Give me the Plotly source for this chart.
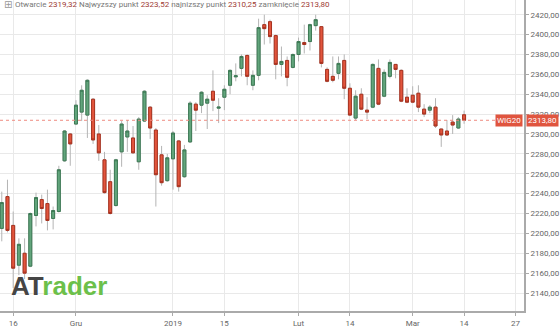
import pandas as pd
import plotly.graph_objects as go

# ---- data (WIG20 daily candles, 14 Nov 2018 - 14 Mar 2019) ----
holidays = ["2018-12-24", "2018-12-25", "2018-12-26", "2018-12-31", "2019-01-01"]
all_days = [d for d in pd.bdate_range("2018-11-14", "2019-03-29") if d.strftime("%Y-%m-%d") not in holidays]
n_candles = 82
dates = all_days[:n_candles]

opens = [2205, 2237, 2208, 2168, 2180, 2167, 2218, 2234, 2230, 2215,
         2222, 2273, 2300, 2310, 2322, 2319, 2335, 2300, 2274, 2252,
         2228, 2282, 2297, 2296, 2272, 2313, 2327, 2304, 2279, 2253,
         2275, 2293, 2257, 2292, 2330, 2329, 2331, 2343, 2326, 2337,
         2349, 2357.5, 2366, 2379, 2349, 2359, 2410, 2413, 2399, 2370,
         2374, 2367, 2380, 2392, 2393, 2409, 2408, 2365, 2358, 2361,
         2374, 2346, 2316, 2340, 2324, 2327, 2366, 2338, 2358, 2370,
         2364, 2337, 2339, 2341, 2325, 2324, 2327, 2305, 2303, 2312,
         2306, 2319.32]
highs = [2242, 2254, 2222, 2195, 2195, 2221, 2241, 2239, 2244, 2227,
         2268, 2304, 2301, 2334, 2349, 2355, 2336, 2309, 2282, 2264,
         2275, 2313, 2314, 2308, 2317, 2344, 2328, 2306, 2288, 2280,
         2303, 2294, 2289, 2333, 2332, 2343, 2339, 2364, 2336, 2349,
         2365, 2371, 2380, 2380, 2364, 2416, 2420, 2415, 2400, 2388,
         2378, 2381, 2397, 2410, 2411, 2420, 2408, 2367, 2378, 2378,
         2380, 2351, 2344, 2346, 2337, 2371, 2375, 2365, 2375, 2370,
         2365, 2346, 2348, 2349, 2330, 2329, 2336, 2305, 2314, 2319,
         2317, 2323.52]
lows = [2192, 2201, 2145, 2158, 2154, 2166, 2207, 2210, 2203, 2204,
        2221, 2272, 2268, 2309, 2313, 2296, 2290, 2273, 2240, 2219,
        2227, 2267, 2282, 2280, 2264, 2312, 2295, 2227, 2248, 2252,
        2244, 2242, 2256, 2291, 2303, 2321, 2305, 2323, 2311, 2324,
        2340, 2353, 2358, 2349, 2344, 2354, 2390, 2391, 2355, 2358,
        2348, 2366, 2373, 2381, 2384, 2404, 2367, 2352, 2352, 2355,
        2335, 2318, 2314, 2324, 2315, 2326, 2329, 2337, 2356, 2356,
        2332, 2331, 2331, 2322, 2317, 2321, 2306, 2287, 2298, 2300,
        2305, 2310.25]
closes = [2231, 2203, 2165, 2189, 2160, 2220, 2236, 2225, 2213, 2223,
          2264, 2303, 2290, 2329, 2344, 2354, 2294, 2281, 2241, 2220,
          2274, 2310, 2303, 2281, 2315, 2343, 2306, 2259, 2251, 2276,
          2301, 2247, 2284, 2331, 2324, 2342, 2335, 2334, 2327, 2345,
          2364, 2358.5, 2378, 2358, 2359, 2407, 2406, 2398, 2370, 2373,
          2357, 2380, 2393, 2390, 2410, 2415, 2371, 2353, 2354, 2371,
          2346, 2319, 2338, 2325, 2322, 2370, 2330, 2362, 2372, 2365,
          2333, 2332, 2332, 2327, 2320, 2327, 2308, 2299, 2299, 2309,
          2315, 2313.80]

x_tick_dates = ["2018-11-16", "2018-12-03", "2019-01-02", "2019-01-15", "2019-02-01",
                "2019-02-14", "2019-03-01", "2019-03-14", "2019-03-27"]
x_tick_labels = ["16", "Gru", "2019", "15", "Lut", "14", "Mar", "14", "27"]
y_ticks = list(range(2140, 2421, 20))
last_price = 2313.80
header_vals = ["2319,32", "2323,52", "2310,25", "2313,80"]

# ---- figure ----
day_index = {d.strftime("%Y-%m-%d"): i for i, d in enumerate(all_days)}
xs = list(range(n_candles))
tickvals = [day_index[d] for d in x_tick_dates]

GREEN_FILL, GREEN_LINE = "#62a57c", "#3d7a55"
RED_FILL, RED_LINE = "#e2553d", "#a8321f"
WICK = "#b4b4b4"

fig = go.Figure()
# wicks
fig.add_trace(go.Candlestick(
    x=xs, open=opens, high=highs, low=lows, close=closes,
    increasing=dict(line=dict(color=WICK, width=1), fillcolor=GREEN_FILL),
    decreasing=dict(line=dict(color=WICK, width=1), fillcolor=RED_FILL),
    hoverinfo="skip", showlegend=False))
# bodies
body_hi = [max(o, c) for o, c in zip(opens, closes)]
body_lo = [min(o, c) for o, c in zip(opens, closes)]
fig.add_trace(go.Candlestick(
    x=xs, open=opens, high=body_hi, low=body_lo, close=closes,
    increasing=dict(line=dict(color=GREEN_LINE, width=1), fillcolor=GREEN_FILL),
    decreasing=dict(line=dict(color=RED_LINE, width=1), fillcolor=RED_FILL),
    showlegend=False))

FONT = "Roboto"
fig.update_layout(
    width=560, height=328,
    margin=dict(l=0, r=32, t=0, b=12),
    paper_bgcolor="white", plot_bgcolor="white",
    boxgap=0.25,
    font=dict(family=FONT, size=8, color="#666"),
    xaxis=dict(
        range=[-0.31, 91.5], rangeslider=dict(visible=False),
        tickvals=tickvals, ticktext=x_tick_labels,
        showgrid=True, gridcolor="#e9e9e9", gridwidth=1,
        showline=True, linecolor="#aaaaaa", linewidth=2,
        ticks="outside", ticklen=3, tickcolor="#aaaaaa",
        tickfont=dict(size=8, color="#666"), zeroline=False, fixedrange=True),
    yaxis=dict(
        side="right", range=[2121.9, 2434.8],
        tickvals=y_ticks, ticktext=[f"{v},00" for v in y_ticks],
        showgrid=True, gridcolor="#e9e9e9", gridwidth=1,
        showline=True, linecolor="#aaaaaa", linewidth=2,
        ticks="outside", ticklen=3, tickcolor="#aaaaaa",
        tickfont=dict(size=8, color="#666"), zeroline=False),
)

# last price dotted line
fig.add_shape(type="line", xref="paper", yref="y", x0=0, x1=0.947,
              y0=last_price, y1=last_price, line=dict(color="#ee8a80", width=1, dash="dot"))

# tags
fig.add_annotation(xref="paper", yref="y", x=0.9985, y=last_price, xanchor="right", yanchor="middle",
                   text="WIG20", showarrow=False, bgcolor="#e0553f", borderpad=1,
                   font=dict(family=FONT, size=8, color="white"))
fig.add_annotation(xref="paper", yref="y", x=1.003, y=last_price, xanchor="left", yanchor="middle",
                   text=f"{last_price:.2f}".replace(".", ","), showarrow=False, bgcolor="#e0553f", borderpad=1,
                   font=dict(family=FONT, size=8, color="white"))

# header
red = "#9e3b33"
hdr = (f"Otwarcie <span style='color:{red}'>{header_vals[0]}</span> "
       f"Najwyzszy punkt <span style='color:{red}'>{header_vals[1]}</span> "
       f"najnizszy punkt <span style='color:{red}'>{header_vals[2]}</span> "
       f"zamknięcie <span style='color:{red}'>{header_vals[3]}</span>")
fig.add_annotation(xref="paper", yref="paper", x=0.024, y=0.984, xanchor="left", yanchor="middle",
                   text=hdr, showarrow=False, font=dict(family=FONT, size=8, color="#777"))
fig.add_annotation(xref="paper", yref="paper", x=0.004, y=0.984, xanchor="left", yanchor="middle",
                   text="⊞", showarrow=False, font=dict(family="DejaVu Sans", size=10, color="#999"))

# logo
fig.add_annotation(xref="paper", yref="paper", x=0.018, y=0.025, xanchor="left", yanchor="bottom",
                   text="<b><span style='color:#454545'>AT</span><span style='color:#6cc04a'>rader</span></b>",
                   showarrow=False, font=dict(family="Liberation Sans", size=26))

fig.write_html("out.html")
